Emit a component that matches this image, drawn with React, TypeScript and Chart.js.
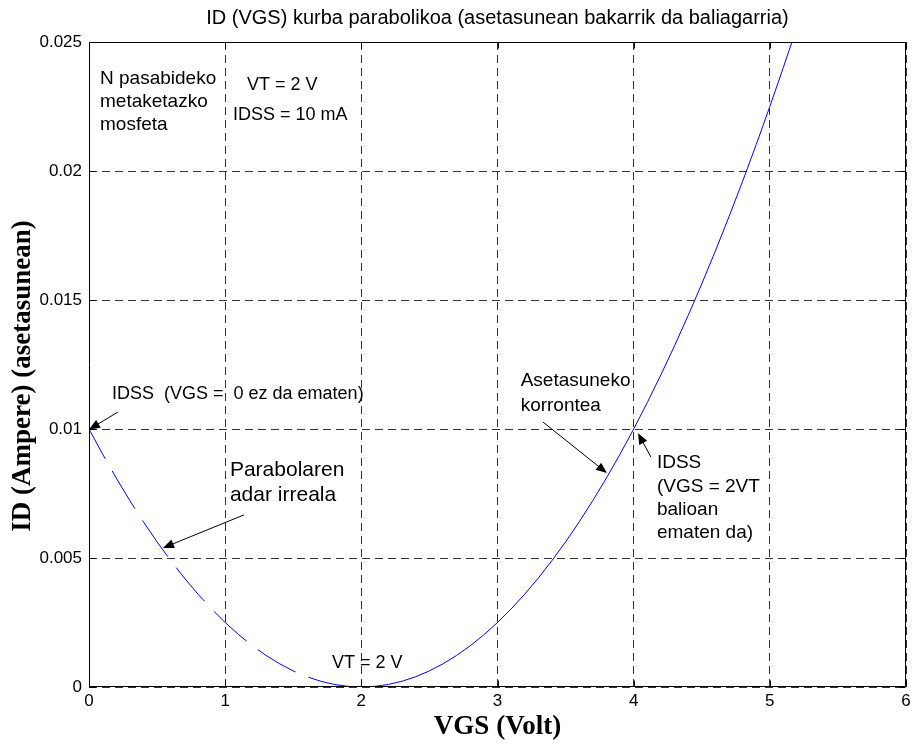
import React, { useEffect, useRef } from 'react';
import { Chart, registerables } from 'chart.js';

Chart.register(...registerables);

// ---- text ----
const titleText = 'ID (VGS) kurba parabolikoa (asetasunean bakarrik da baliagarria)';
const xAxisTitle = 'VGS (Volt)';
const yAxisTitle = 'ID (Ampere) (asetasunean)';
const xTickLabels = ['0', '1', '2', '3', '4', '5', '6'];
const yTickLabels = ['0', '0.005', '0.01', '0.015', '0.02', '0.025'];

// ---- series: unreal (dashed) branch, VGS 0..2 ----
const vgsUnreal = [0, 0.1, 0.2, 0.3, 0.4, 0.5, 0.6, 0.7, 0.8, 0.9, 1.0, 1.1, 1.2, 1.3, 1.4, 1.5, 1.6, 1.7, 1.8, 1.9, 2.0];
const idUnreal = [0.01, 0.009025, 0.0081, 0.007225, 0.0064, 0.005625, 0.0049, 0.004225, 0.0036, 0.003025, 0.0025, 0.002025, 0.0016, 0.001225, 0.0009, 0.000625, 0.0004, 0.000225, 0.0001, 0.000025, 0];

// ---- series: saturation (solid) branch, VGS 2..5.16 ----
const vgsSat = [2.0, 2.1, 2.2, 2.3, 2.4, 2.5, 2.6, 2.7, 2.8, 2.9, 3.0, 3.1, 3.2, 3.3, 3.4, 3.5, 3.6, 3.7, 3.8, 3.9, 4.0, 4.1, 4.2, 4.3, 4.4, 4.5, 4.6, 4.7, 4.8, 4.9, 5.0, 5.1, 5.162];
const idSat = [0, 0.000025, 0.0001, 0.000225, 0.0004, 0.000625, 0.0009, 0.001225, 0.0016, 0.002025, 0.0025, 0.003025, 0.0036, 0.004225, 0.0049, 0.005625, 0.0064, 0.007225, 0.0081, 0.009025, 0.01, 0.011025, 0.0121, 0.013225, 0.0144, 0.015625, 0.0169, 0.018225, 0.0196, 0.021025, 0.0225, 0.024025, 0.025];

// ---- annotations (data coordinates) ----
const noteLines = [
  ['N pasabideko', 'metaketazko', 'mosfeta'],
  ['VT = 2 V'],
  ['IDSS = 10 mA'],
  ['IDSS  (VGS =  0 ez da ematen)'],
  ['Parabolaren', 'adar irreala'],
  ['VT = 2 V'],
  ['Asetasuneko', 'korrontea'],
  ['IDSS', '(VGS = 2VT', 'balioan', 'ematen da)'],
];
const noteX = [0.081, 1.16, 1.058, 0.169, 1.035, 1.785, 3.17, 4.171];
const noteY = [0.02357, 0.02333, 0.02217, 0.01136, 0.00841, 0.00093, 0.01186, 0.00868];
const noteSize = [19, 18, 18, 18, 21, 18, 19, 19];
const noteLead = [23, 23, 23, 23, 25, 23, 25, 23.3];

const arrowFromX = [0.213, 1.138, 3.334, 4.127];
const arrowFromY = [0.01066, 0.00667, 0.01027, 0.00891];
const arrowToX = [0.0, 0.543, 3.804, 4.032];
const arrowToY = [0.00998, 0.00539, 0.00829, 0.00984];

const SANS = '"Liberation Sans", Arial, sans-serif';
const SERIF = '"Liberation Serif", "Times New Roman", serif';

const overlay = {
  id: 'overlay',
  afterDraw(chart: any) {
    const { ctx, chartArea: a, scales } = chart;
    const xs = scales.x;
    const ys = scales.y;
    ctx.save();
    ctx.setLineDash([]);
    ctx.strokeStyle = '#000';
    ctx.lineWidth = 1;
    const L = Math.round(a.left) + 0.5;
    const R = Math.round(a.right) - 0.5;
    const T = Math.round(a.top) + 0.5;
    const B = Math.round(a.bottom) - 0.5;
    ctx.beginPath();
    ctx.rect(L, T, R - L, B - T);
    ctx.stroke();
    // inner tick marks
    const tl = 6;
    ctx.beginPath();
    xs.ticks.forEach((t: any) => {
      const px = Math.round(xs.getPixelForValue(t.value)) + 0.5;
      ctx.moveTo(px, B); ctx.lineTo(px, B - tl);
      ctx.moveTo(px, T); ctx.lineTo(px, T + tl);
    });
    ys.ticks.forEach((t: any) => {
      const py = Math.round(ys.getPixelForValue(t.value)) + 0.5;
      ctx.moveTo(L, py); ctx.lineTo(L + tl, py);
      ctx.moveTo(R, py); ctx.lineTo(R - tl, py);
    });
    ctx.stroke();

    ctx.fillStyle = '#000';
    ctx.textBaseline = 'middle';

    // notes
    ctx.textAlign = 'left';
    noteLines.forEach((lines, k) => {
      ctx.font = `${noteSize[k]}px ${SANS}`;
      const px = xs.getPixelForValue(noteX[k]);
      const py = ys.getPixelForValue(noteY[k]);
      lines.forEach((t, j) => ctx.fillText(t, px, py + j * noteLead[k]));
    });

    // arrows
    arrowFromX.forEach((_, k) => {
      const x1 = xs.getPixelForValue(arrowFromX[k]);
      const y1 = ys.getPixelForValue(arrowFromY[k]);
      const x2 = xs.getPixelForValue(arrowToX[k]);
      const y2 = ys.getPixelForValue(arrowToY[k]);
      const ang = Math.atan2(y2 - y1, x2 - x1);
      const hl = 11, hw = 4.5;
      ctx.beginPath();
      ctx.moveTo(x1, y1);
      ctx.lineTo(x2 - Math.cos(ang) * hl * 0.8, y2 - Math.sin(ang) * hl * 0.8);
      ctx.stroke();
      ctx.beginPath();
      ctx.moveTo(x2, y2);
      ctx.lineTo(x2 - Math.cos(ang) * hl - Math.sin(ang) * hw, y2 - Math.sin(ang) * hl + Math.cos(ang) * hw);
      ctx.lineTo(x2 - Math.cos(ang) * hl + Math.sin(ang) * hw, y2 - Math.sin(ang) * hl - Math.cos(ang) * hw);
      ctx.closePath();
      ctx.fill();
    });

    // title
    const cx = (a.left + a.right) / 2;
    ctx.textAlign = 'center';
    ctx.font = `20px ${SANS}`;
    ctx.fillText(titleText, cx, 18);
    // axis titles
    ctx.font = `bold 27px ${SERIF}`;
    ctx.fillText(xAxisTitle, cx, 727);
    ctx.save();
    ctx.translate(23, 376);
    ctx.rotate(-Math.PI / 2);
    ctx.fillText(yAxisTitle, 0, 0);
    ctx.restore();
    ctx.restore();
  },
};

export default function App() {
  const ref = useRef<HTMLCanvasElement | null>(null);
  useEffect(() => {
    document.body.style.margin = '0';
    document.body.style.overflow = 'hidden';
    if (!ref.current) return;
    const chart = new Chart(ref.current, {
      type: 'scatter',
      data: {
        datasets: [
          {
            data: vgsUnreal.map((v, i) => ({ x: v, y: idUnreal[i] })),
            showLine: true,
            borderColor: '#0000ff',
            borderWidth: 1,
            borderDash: [44, 14],
            borderDashOffset: 10,
            pointRadius: 0,
            fill: false,
          },
          {
            data: vgsSat.map((v, i) => ({ x: v, y: idSat[i] })),
            showLine: true,
            borderColor: '#0000ff',
            borderWidth: 1,
            pointRadius: 0,
            fill: false,
          },
        ],
      },
      options: {
        responsive: false,
        animation: false,
        layout: { padding: { top: 42, left: 0, right: 8, bottom: 0 } },
        plugins: { legend: { display: false }, tooltip: { enabled: false }, title: { display: false } },
        scales: {
          x: {
            type: 'linear',
            min: 0,
            max: 6,
            ticks: {
              stepSize: 1,
              autoSkip: false,
              maxRotation: 0,
              padding: 4,
              color: '#000',
              font: { family: SANS, size: 17 },
              callback: (_v: any, i: number) => xTickLabels[i],
            },
            grid: { color: '#333', lineWidth: 1, drawTicks: false },
            border: { display: false, dash: [8, 5] },
            afterFit: (s: any) => { s.height = 60; s.paddingLeft = 0; s.paddingRight = 0; },
          },
          y: {
            type: 'linear',
            min: 0,
            max: 0.025,
            ticks: {
              stepSize: 0.005,
              autoSkip: false,
              padding: 7,
              color: '#000',
              font: { family: SANS, size: 17 },
              callback: (_v: any, i: number) => yTickLabels[i],
            },
            grid: { color: '#333', lineWidth: 1, drawTicks: false },
            border: { display: false, dash: [8, 5] },
            afterFit: (s: any) => { s.width = 89; s.paddingTop = 0; s.paddingBottom = 0; },
          },
        },
      },
      plugins: [overlay],
    });
    return () => chart.destroy();
  }, []);
  return (
    <div style={{ width: 914, height: 747 }}>
      <canvas ref={ref} width={914} height={747} style={{ display: 'block' }} />
    </div>
  );
}
